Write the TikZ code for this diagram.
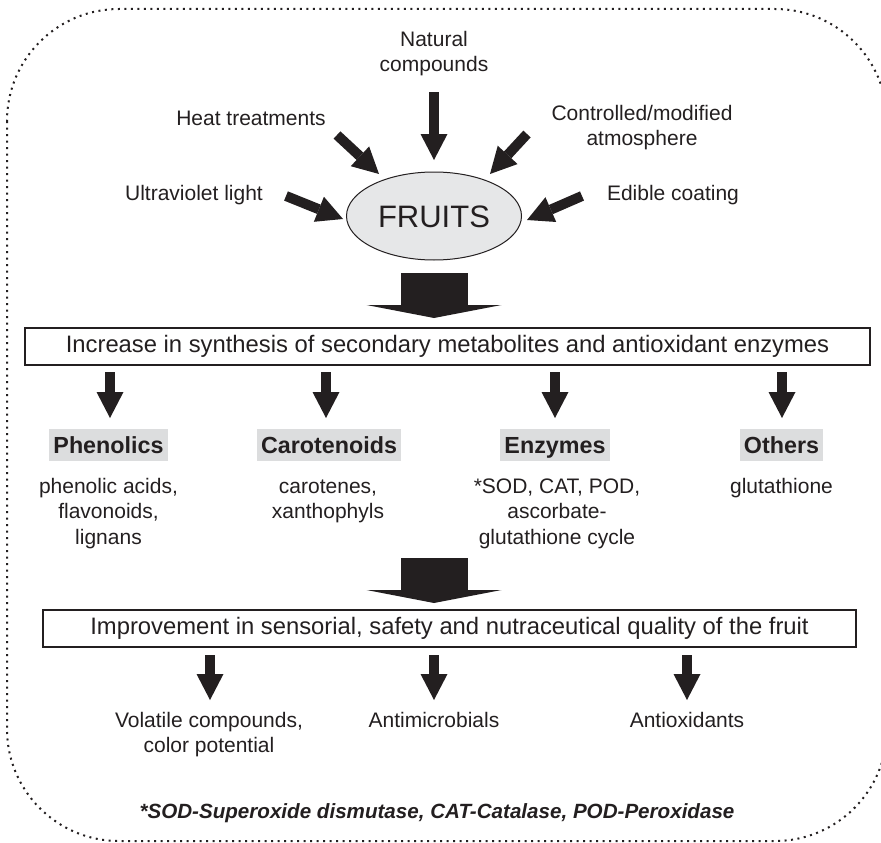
\documentclass[tikz,border=0pt]{standalone}
\usepackage{fontspec}
\setmainfont{Liberation Sans}
\usetikzlibrary{arrows.meta,shapes.geometric}
\definecolor{ink}{HTML}{231F20}
\definecolor{fruitgray}{HTML}{E6E7E8}
\definecolor{labgray}{HTML}{DCDDDE}
\tikzset{
  lbl/.style={font=\fontsize{21}{25.5}\selectfont, text=ink, align=center, inner sep=0pt, anchor=base},
  boxtxt/.style={draw=ink, line width=1.8pt, font=\fontsize{23.8}{28}\selectfont, text=ink,
    inner sep=0pt, text height=17pt, text depth=5pt},
  catlbl/.style={fill=labgray, font=\bfseries\fontsize{23.3}{28}\selectfont, text=ink,
    inner xsep=4pt, inner ysep=7.75pt, text height=16.5pt, text depth=0pt},
  sarrow/.style={draw=ink, line width=10pt, -{Triangle[width=27pt,length=26pt,line width=0pt]}},
  barrow/.style={draw=ink, line width=67pt, -{Triangle[width=135pt,length=13pt,line width=0pt]}},
  borderline/.style={draw=ink, line width=2pt, dash pattern=on 2pt off 4.5pt, rounded corners=112pt}
}
\begin{document}
\begin{tikzpicture}[x=1pt,y=-1pt]
\useasboundingbox (0,0) rectangle (881,843);
\clip (0,0) rectangle (881,843);
\draw[borderline] (7,9) rectangle (887,841);

% treatments (multi-line nodes: base = last line baseline)
\node[lbl] (natural) at (434,72) {Natural\\compounds};
\node[lbl] (heat) at (251,125) {Heat treatments};
\node[lbl] (uv) at (194,200) {Ultraviolet light};
\node[lbl] (cma) at (642,145.5) {Controlled/modified\\atmosphere};
\node[lbl] (edible) at (673,200) {Edible coating};

\node[ellipse, draw=ink, fill=fruitgray, line width=1pt, minimum width=175pt, minimum height=88pt,
  inner sep=0pt, font=\fontsize{31}{36}\selectfont, text=ink, text height=22.2pt, text depth=0pt]
  (fruits) at (434,216) {FRUITS};

\coordinate (natS) at (434,92);  \coordinate (natE) at (434,160);
\coordinate (heatS) at (337,135); \coordinate (heatE) at (379,174);
\coordinate (cmaS) at (527,134); \coordinate (cmaE) at (490,174);
\coordinate (uvS) at (286,196); \coordinate (uvE) at (343,219);
\coordinate (edS) at (582,196); \coordinate (edE) at (527,220);
\draw[sarrow] (natS) -- (natE);
\draw[sarrow] (heatS) -- (heatE);
\draw[sarrow] (cmaS) -- (cmaE);
\draw[sarrow] (uvS) -- (uvE);
\draw[sarrow] (edS) -- (edE);

% big arrow 1
\coordinate (b1S) at (434,273); \coordinate (b1E) at (434,318);
\draw[barrow] (b1S) -- (b1E);

\node[boxtxt, minimum width=845pt, minimum height=37pt] (increase) at (447.5,346.5)
  {Increase in synthesis of secondary metabolites and antioxidant enzymes};

% row 1 arrows
\foreach \n/\x in {a/110,b/326,c/555,d/782}{
  \coordinate (r1\n S) at (\x,372); \coordinate (r1\n E) at (\x,418);
  \draw[sarrow] (r1\n S) -- (r1\n E);
}

\node[catlbl] (phen) at (108.5,445) {Phenolics};
\node[catlbl] (caro) at (329,445) {Carotenoids};
\node[catlbl] (enz) at (555,445) {Enzymes};
\node[catlbl] (oth) at (781.5,445) {Others};

\node[lbl] (phentxt) at (108.5,544) {phenolic acids,\\flavonoids,\\lignans};
\node[lbl] (carotxt) at (328,518.5) {carotenes,\\xanthophyls};
\node[lbl] (enztxt) at (557,544) {*SOD, CAT, POD,\\ascorbate-\\glutathione cycle};
\node[lbl] (othtxt) at (781.5,493) {glutathione};

% big arrow 2
\coordinate (b2S) at (434,558); \coordinate (b2E) at (434,603);
\draw[barrow] (b2S) -- (b2E);

\node[boxtxt, minimum width=813pt, minimum height=37pt] (improve) at (449.5,628.5)
  {Improvement in sensorial, safety and nutraceutical quality of the fruit};

% row 2 arrows
\foreach \n/\x in {a/210,b/434,c/687}{
  \coordinate (r2\n S) at (\x,655); \coordinate (r2\n E) at (\x,700);
  \draw[sarrow] (r2\n S) -- (r2\n E);
}

\node[lbl] (volatile) at (209,752.5) {Volatile compounds,\\color potential};
\node[lbl] (antimic) at (434,727) {Antimicrobials};
\node[lbl] (antiox) at (687,727) {Antioxidants};

\node[lbl, font=\bfseries\itshape\fontsize{20.6}{25}\selectfont] (foot) at (437,818)
  {*SOD-Superoxide dismutase, CAT-Catalase, POD-Peroxidase};
\end{tikzpicture}
\end{document}
